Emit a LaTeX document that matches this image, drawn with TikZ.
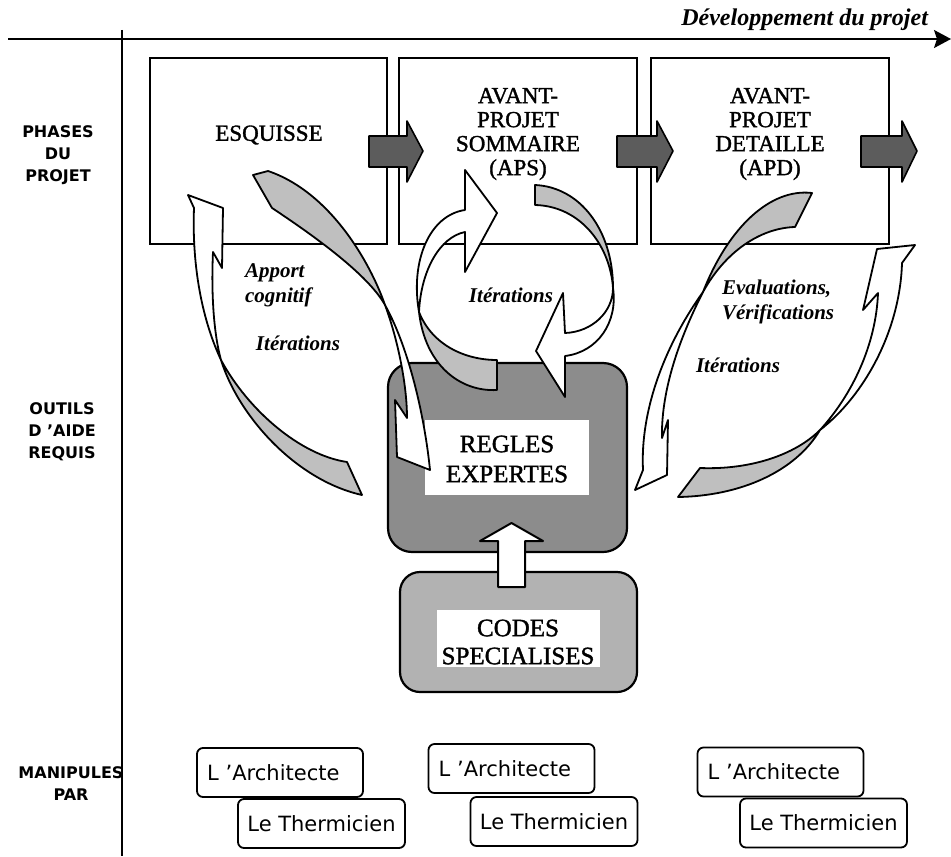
\documentclass[tikz,border=0pt]{standalone}
\usepackage{fontspec}
\setmainfont{Liberation Serif}
\newfontfamily\boxfont[FakeBold=1.4]{Liberation Serif}
\newfontfamily\sidefont{DejaVu Sans}
\usetikzlibrary{arrows.meta}

\tikzset{
  phasebox/.style={draw, fill=white, line width=1.1pt},
  flowarrow/.style={draw, fill=black!64, line width=0.8pt, line join=round},
  backside/.style={draw, fill=black!25, line width=0.9pt, line join=round},
  frontside/.style={draw, fill=white, line width=0.9pt, line join=round},
  phasetext/.style={align=center, font=\boxfont\fontsize{11.5}{12}\selectfont},
  tooltext/.style={align=center, font=\boxfont\fontsize{12.5}{15}\selectfont},
  sidetext/.style={align=center, font=\sidefont\bfseries\fontsize{8}{11}\selectfont},
  note/.style={align=left, font=\bfseries\itshape\fontsize{10.5}{12.5}\selectfont},
  actor/.style={draw, fill=white, rounded corners=3pt, line width=0.9pt, minimum height=24.5pt,
    font=\sidefont\fontsize{10.5}{12}\selectfont},
  architecte/.style={actor, text width=73pt, inner xsep=5pt, align=left},
  thermicien/.style={actor, minimum width=83.5pt},
}

\begin{document}
\begin{tikzpicture}[x=0.5pt, y=-0.5pt]
  \useasboundingbox (0,0) rectangle (951,856);

  \draw[line width=1pt, -{Stealth[length=8.5pt,width=9pt,inset=1.5pt]}] (8,39) -- (951,39);
  \draw[line width=1pt] (122,30) -- (122,856);
  \node[note, anchor=east, font=\bfseries\itshape\fontsize{12}{14}\selectfont] (devel) at (935,20) {Développement du projet};

  \node[sidetext] (phases) at (58,155) {PHASES\\DU\\PROJET};
  \node[sidetext] (outils) at (62,432) {OUTILS\\D ’AIDE\\REQUIS};
  \node[sidetext] (manip) at (71,784) {MANIPULES\\PAR};

  \draw[phasebox] (150,58) rectangle (387,244);
  \draw[phasebox] (399,58) rectangle (637,244);
  \draw[phasebox] (651,58) rectangle (889,244);

  \foreach \a/\b/\c in {369/407/423, 617/657/673, 861/902/917}
    \draw[flowarrow] (\a,136) -- (\b,136) -- (\b,121) -- (\c,151) -- (\b,182) -- (\b,167) -- (\a,167) -- cycle;

  \node[phasetext] (esquisse) at (269,135) {ESQUISSE};
  \node[phasetext] (aps) at (518,134) {AVANT-\\PROJET\\SOMMAIRE\\(APS)};
  \node[phasetext] (apd) at (770,134) {AVANT-\\PROJET\\DETAILLE\\(APD)};

  \node[draw, fill=black!45, line width=1.1pt, rounded corners=12pt, minimum width=119.5pt, minimum height=94.5pt] (regles) at (507.5,457.5) {};
  \node[fill=white, minimum width=82pt, minimum height=37.5pt] (reglesbg) at (507,457.5) {};
  \node[draw, fill=black!30, line width=1.1pt, rounded corners=10pt, minimum width=118.5pt, minimum height=60pt] (codes) at (518.5,632) {};
  \node[fill=white, minimum width=81.5pt, minimum height=28.5pt] (codesbg) at (518.5,638.5) {};

  \coordinate (upbase) at (511.5,587);
  \draw[frontside, line width=1pt] (upbase) ++(-13.5,0) -- ++(0,-46) -- ++(-18,0) -- ++(31.5,-18)
    -- ++(31.5,18) -- ++(-18,0) -- ++(0,46) -- cycle;

  \draw[backside] (221,360) .. controls (238,415) and (295,480) .. (362,495) -- (347,462)
    .. controls (300,455) and (248,410) .. (221,360) -- cycle;
  \draw[frontside] (221,360) .. controls (200,315) and (192,260) .. (194,208) -- (188,195) -- (223,208)
    -- (222,268) -- (213,252) .. controls (211,295) and (214,335) .. (221,360) -- cycle;

  \draw[backside] (253,175) -- (272,208) .. controls (325,243) and (370,278) .. (385,305)
    .. controls (370,262) and (330,192) .. (268,171) -- cycle;
  \draw[frontside] (385,305) .. controls (398,340) and (407,385) .. (407,418) -- (395,400) -- (397,457)
    -- (430,470) .. controls (425,420) and (410,350) .. (385,305) -- cycle;

  \draw[frontside] (419,312) .. controls (410,260) and (430,215) .. (465,210) -- (465,170) -- (497,213)
    -- (465,272) -- (465,232) .. controls (440,237) and (421,270) .. (419,312) -- cycle;
  \draw[backside] (419,312) .. controls (425,365) and (460,392) .. (497,390) -- (497,360)
    .. controls (465,360) and (432,345) .. (419,312) -- cycle;

  \draw[backside] (535,185) .. controls (580,187) and (613,230) .. (613,288)
    .. controls (610,245) and (580,206) .. (535,205) -- cycle;
  \draw[frontside] (613,288) .. controls (613,312) and (592,332) .. (565,333) -- (563,293) -- (536,351)
    -- (565,397) -- (565,356) .. controls (598,352) and (618,322) .. (613,288) -- cycle;

  \draw[backside] (812,193) .. controls (770,188) and (728,228) .. (703,292)
    .. controls (725,252) and (760,228) .. (795,227) -- cycle;
  \draw[frontside] (703,292) .. controls (665,345) and (640,410) .. (643,470) -- (635,490) -- (667,475)
    -- (668,420) -- (662,438) .. controls (661,395) and (676,345) .. (703,292) -- cycle;

  \draw[backside] (678,497) .. controls (740,496) and (795,472) .. (820,430)
    .. controls (795,455) and (750,470) .. (700,468) -- cycle;
  \draw[frontside] (820,430) .. controls (852,395) and (876,345) .. (878,293) -- (863,310) -- (877,249)
    -- (915,245) -- (902,263) .. controls (900,330) and (865,395) .. (820,430) -- cycle;

  \node[tooltext] (reglestxt) at (507,459) {REGLES\\EXPERTES};
  \node[tooltext, font=\boxfont\fontsize{12.5}{14}\selectfont] (codestxt) at (518,642) {CODES\\SPECIALISES};

  \node[note, anchor=west] (apport) at (238,285) {Apport\\cognitif};
  \node[note] (iter1) at (298,343) {Itérations};
  \node[note] (iter2) at (511,295) {Itérations};
  \node[note, anchor=west] (evalu) at (715,302) {Evaluations,\\Vérifications};
  \node[note] (iter3) at (738,365) {Itérations};

  \node[architecte] (arch1) at (280,772.5) {L ’Architecte};
  \node[thermicien] (therm1) at (321.5,823.5) {Le Thermicien};
  \node[architecte] (arch2) at (511.5,768.5) {L ’Architecte};
  \node[thermicien] (therm2) at (554,821.5) {Le Thermicien};
  \node[architecte] (arch3) at (780.5,772) {L ’Architecte};
  \node[thermicien] (therm3) at (823.5,823) {Le Thermicien};
\end{tikzpicture}
\end{document}
